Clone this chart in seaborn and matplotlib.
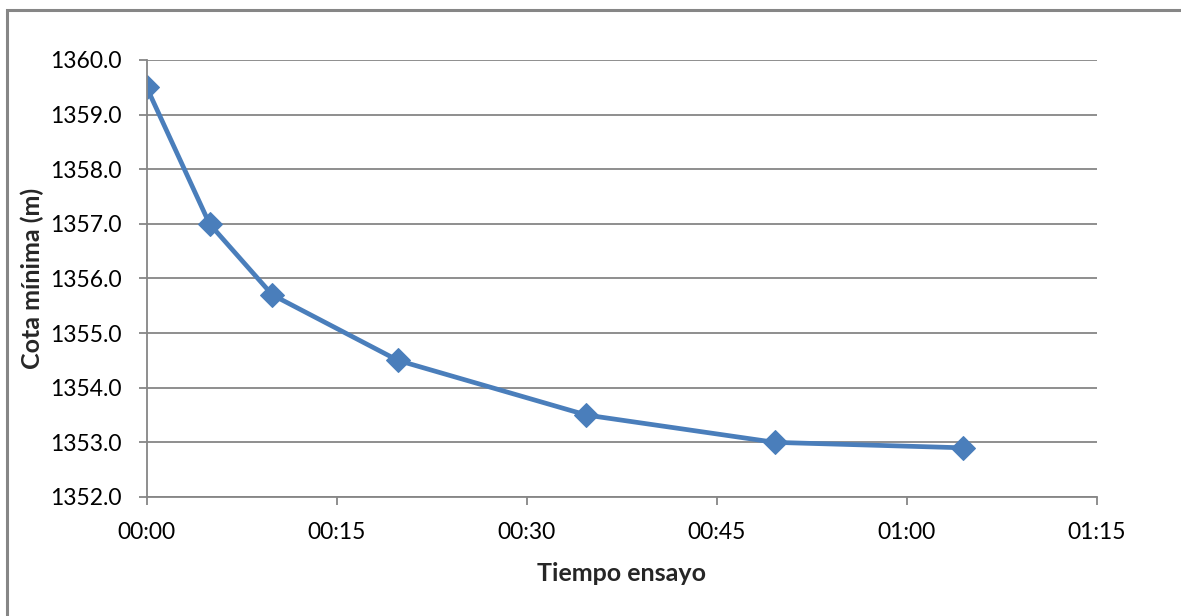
import matplotlib
matplotlib.use("Agg")
import matplotlib.pyplot as plt
from matplotlib.patches import Rectangle
import seaborn as sns
import pandas as pd

# Test time (minutes from start) and minimum level (m)
tiempo_min = [0, 5, 10, 20, 35, 50, 65]
cota_min = [1359.5, 1357.0, 1355.7, 1354.5, 1353.5, 1353.0, 1352.9]

# Time axis: major unit of 0.0105 days (~15.12 min), shown as hh:mm
paso_min = 0.0105 * 24 * 60
x_tick_labels = ["00:00", "00:15", "00:30", "00:45", "01:00", "01:15"]
y_ticks = [1352, 1353, 1354, 1355, 1356, 1357, 1358, 1359, 1360]

df = pd.DataFrame({"tiempo": tiempo_min, "cota": cota_min})

sns.set_theme(style="white")
plt.rcParams["font.family"] = ["Lato", "DejaVu Sans"]

fig = plt.figure(figsize=(11.81, 6.16), dpi=100)
ax = fig.add_axes([0.1242, 0.1932, 0.8044, 0.7094])

azul = "#4A7EBB"
gris = "#868686"

ax.set_axisbelow(True)
ax.yaxis.grid(True, color=gris, linewidth=1.3)
ax.xaxis.grid(False)

sns.lineplot(data=df, x="tiempo", y="cota", ax=ax, color=azul,
             linewidth=3.4, marker="D", markersize=12.5,
             markeredgecolor=azul, markerfacecolor=azul)

ax.set_xlim(0, paso_min * 5)
ax.set_ylim(1352, 1360)
ax.set_xticks([i * paso_min for i in range(6)])
ax.set_xticklabels(x_tick_labels)
ax.set_yticks(y_ticks)
ax.set_yticklabels([f"{v:.1f}" for v in y_ticks])

for s in ["top", "right"]:
    ax.spines[s].set_visible(False)
for s in ["left", "bottom"]:
    ax.spines[s].set_color(gris)
    ax.spines[s].set_linewidth(1.3)

ax.tick_params(axis="both", which="major", direction="out", length=6,
               width=1.3, color=gris, labelsize=16.5, labelcolor="black")
ax.tick_params(axis="x", pad=12)
ax.tick_params(axis="y", pad=12)
ax.tick_params(bottom=True, left=True)

ax.set_xlabel("Tiempo ensayo", fontsize=18, fontweight="bold", labelpad=14)
ax.set_ylabel("Cota mínima (m)", fontsize=18, fontweight="bold", labelpad=4)

# Chart area frame
fig.patches.append(Rectangle((7 / 1181, -0.1), 1.2, 1.1 - 10 / 616,
                             transform=fig.transFigure, fill=False,
                             edgecolor=gris, linewidth=2.2))

fig.savefig("out.png", dpi=100, facecolor="white")
